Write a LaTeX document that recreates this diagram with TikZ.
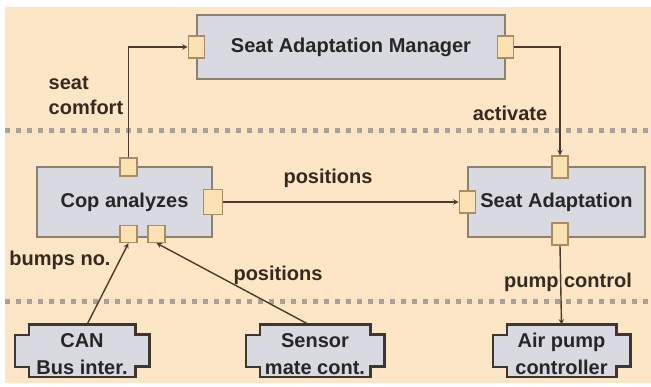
\documentclass[tikz,border=0pt]{standalone}
\usepackage{fontspec}
\setmainfont{Liberation Sans}
\usetikzlibrary{backgrounds}

\definecolor{paper}{HTML}{FDE6C6}
\definecolor{boxfill}{HTML}{D9D9E1}
\definecolor{boxline}{HTML}{8C8070}
\definecolor{portfill}{HTML}{FCE2B2}
\definecolor{portline}{HTML}{A88C64}
\definecolor{wire}{HTML}{4A3C2C}
\definecolor{ifaceline}{HTML}{3E3630}
\definecolor{layerline}{HTML}{A8A29A}

\begin{document}
\begin{tikzpicture}[x=1pt, y=-1pt, font=\bfseries\fontsize{20}{25}\selectfont, thick, >=stealth]

\tikzstyle{comp}=[rectangle, draw=boxline, fill=boxfill, line width=1.6pt, text=black!85]
\tikzstyle{port}=[rectangle, draw=portline, fill=portfill, line width=1.2pt, minimum width=16pt, minimum height=22pt, inner sep=0pt]
\tikzstyle{iface}=[rectangle, minimum height=52pt, align=center, inner sep=0pt, text=black!85,
  font=\bfseries\fontsize{20}{28}\selectfont, text height=48pt, text depth=0pt]
\tikzstyle{flow}=[->, draw=wire, line width=1.4pt]
\tikzstyle{lbl}=[text=wire!70!black]

\useasboundingbox (0,0) rectangle (651,387);
\begin{scope}[on background layer]
\fill[paper] (5,7) rectangle (651,383);
\end{scope}

% layer separators
\draw[layerline, line width=5pt, dash pattern=on 5pt off 6pt] (5,131) -- (651,131);
\draw[layerline, line width=5pt, dash pattern=on 5pt off 6pt] (5,302) -- (651,302);

% components
\node[comp, minimum width=308pt, minimum height=64pt] (manager) at (351,47) {Seat Adaptation Manager};
\node[comp, minimum width=175pt, minimum height=70pt] (cop) at (124.5,202) {Cop analyzes};
\node[comp, minimum width=177pt, minimum height=70pt] (adapt) at (556.5,202) {Seat Adaptation};

% ports
\node[port] (mgrin) at (manager.west) {};
\node[port] (mgrout) at (manager.east) {};
\node[port, minimum width=17pt, minimum height=18pt] (copup) at (128.5,167) {};
\node[port, minimum width=19pt, minimum height=25pt] (copout) at (cop.east) {};
\node[port, minimum width=17pt, minimum height=17pt] (copbump) at (128.5,234) {};
\node[port, minimum width=17pt, minimum height=17pt] (coppos) at (156.5,234) {};
\node[port] (saup) at (560,167) {};
\node[port] (sain) at (adapt.west) {};
\node[port] (sapump) at (560,234) {};

% interfaces
\node[iface, minimum width=106pt] (can) at (82,351) {CAN\\Bus inter.};
\node[iface, minimum width=110pt] (sensor) at (315,351) {Sensor\\mate cont.};
\node[iface, minimum width=109pt] (airpump) at (561.5,351) {Air pump\\controller};

\begin{scope}[on background layer]
\foreach \nm in {can,sensor,airpump}
  \filldraw[fill=boxfill, draw=ifaceline, line width=2.2pt]
    (\nm.north west) -- (\nm.north east) -- ++(0,10) -- ++(14,0) -- ++(0,32) -- ++(-14,0)
    -- (\nm.south east) -- (\nm.south west) -- ++(0,-10) -- ++(-14,0) -- ++(0,-32) -- ++(14,0) -- cycle;
\end{scope}

% flows
\draw[flow] (copup.north) |- (mgrin.west);
\draw[flow] (mgrout.east) -| (saup.north);
\draw[flow] (copout.east) -- (sain.west);
\draw[flow] (sapump.south) -- (airpump.north);
\draw[flow] ([xshift=5pt]can.north) -- (copbump.south);
\draw[flow] ([xshift=-6pt]sensor.north) -- (coppos.south);

% labels
\node[lbl, anchor=west, align=left] (comfortlbl) at (45,96) {seat\\comfort};
\node[lbl] (activatelbl) at (510,113) {activate};
\node[lbl] (poslbl) at (328,178) {positions};
\node[lbl] (bumpslbl) at (60,260) {bumps no.};
\node[lbl] (sensorlbl) at (278,275) {positions};
\node[lbl] (pumplbl) at (568,282) {pump control};

\end{tikzpicture}
\end{document}
